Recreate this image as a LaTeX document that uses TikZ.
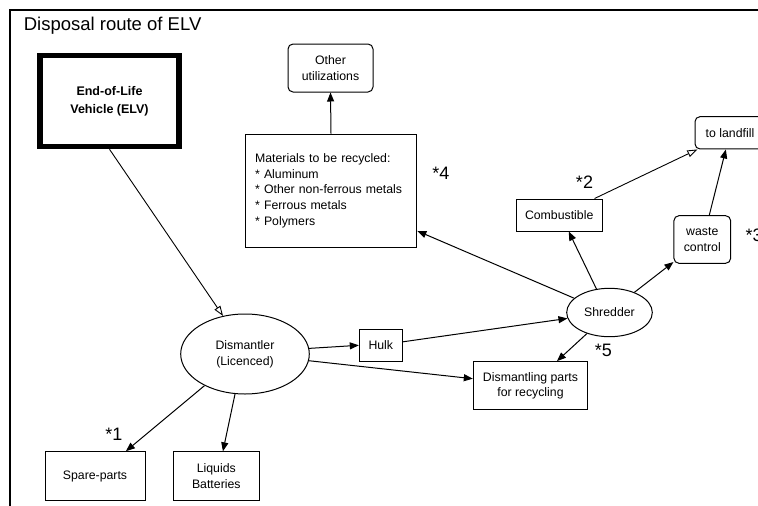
\documentclass[tikz,border=0pt]{standalone}
\usepackage{fontspec}
\setmainfont{Liberation Sans}
\usetikzlibrary{arrows.meta,shapes.geometric}
\begin{document}
\begin{tikzpicture}[x=1pt,y=-1pt,
  every node/.style={font=\fontsize{12.3}{15.7}\selectfont, inner sep=0pt, align=center},
  box/.style={draw, line width=1pt, rectangle},
  rbox/.style={box, rounded corners=5pt},
  ell/.style={draw, line width=1pt, ellipse},
  starlbl/.style={font=\fontsize{18}{20}\selectfont, anchor=base},
  arr/.style={line width=1pt, -{Triangle[length=9pt,width=7pt]}},
  oarr/.style={line width=0.9pt, -{Triangle[open,length=10pt,width=7pt]}},
]
\useasboundingbox (0,0) rectangle (758,506);
\draw[line width=2pt] (10,520) -- (10,10) -- (770,10);
\node[anchor=base west, font=\fontsize{18.5}{22}\selectfont] (title) at (23.6,30.7) {Disposal route of ELV};

\node[draw, line width=5.5pt, minimum width=139pt, minimum height=91pt,
      font=\fontsize{12.5}{18.3}\selectfont\bfseries] (elv) at (109.5,101) {End-of-Life\\Vehicle (ELV)};
\node[rbox, minimum width=85pt, minimum height=48pt] (oth) at (330.5,68) {Other\\utilizations};
\node[box, minimum width=171.7pt, minimum height=113.3pt, text width=151.7pt, inner xsep=10pt, align=left] (mat) at (331,190.7)
  {Materials to be recycled:\\{*} Aluminum\\{*} Other non-ferrous metals\\{*} Ferrous metals\\{*} Polymers};
\node[ell, minimum width=128.6pt, minimum height=80pt] (dis) at (245,354) {Dismantler\\(Licenced)};
\node[box, minimum width=43pt, minimum height=32pt] (hulk) at (380.8,345.3) {Hulk};
\node[ell, minimum width=85.6pt, minimum height=48.4pt] (shr) at (609.5,312.5) {Shredder};
\node[box, minimum width=114.4pt, minimum height=48.3pt] (dpr) at (530.5,385.8) {Dismantling parts\\for recycling};
\node[box, minimum width=86.3pt, minimum height=32pt] (comb) at (559.2,215) {Combustible};
\node[rbox, minimum width=56.7pt, minimum height=47.6pt] (wst) at (702.3,239.5) {waste\\control};
\node[rbox, minimum width=70pt, minimum height=32.3pt] (lf) at (730,132.8) {to landfill};
\node[box, minimum width=100pt, minimum height=49pt] (spare) at (95,476.2) {Spare-parts};
\node[box, minimum width=86pt, minimum height=48.3pt] (liq) at (216.3,476) {Liquids\\Batteries};

\node[starlbl] (s1) at (114,440.7) {*1};
\node[starlbl] (s2) at (584.5,188) {*2};
\node[starlbl, anchor=base west] (s3) at (745.5,241.7) {*3};
\node[starlbl] (s4) at (441,179.3) {*4};
\node[starlbl] (s5) at (603.3,356) {*5};

\draw[oarr] (elv.south) -- (dis.120);
\draw[arr] (dis.5) -- (hulk.west);
\draw[arr] (dis.-6) -- (dpr.173);
\draw[arr] (dis.256) -- (liq.75);
\draw[arr] (dis.218) -- (spare.39);
\draw[arr] (hulk.9) -- (shr.188);
\draw[arr] (shr.158) -- (mat.-25);
\draw[arr] (shr.119) -- (comb.-60);
\draw[arr] (shr.39) -- (wst.218);
\draw[arr] (shr.223) -- (dpr.43);
\draw[arr] (wst.74) -- (lf.256);
\draw[oarr] (comb.25) -- (lf.207);
\draw[arr] (mat.north) -- (oth.south);
\end{tikzpicture}
\end{document}
